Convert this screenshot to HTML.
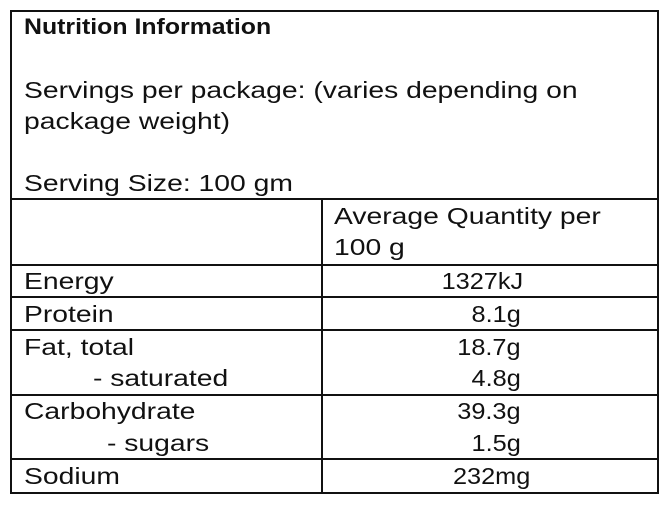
<!DOCTYPE html>
<html><head><style>
body{margin:0;width:671px;height:506px;background:#fff;position:relative;font-family:"Liberation Sans",sans-serif;color:#111;overflow:hidden}
.b{position:absolute;background:#111}
.t{position:absolute;font-size:23px;line-height:26px;white-space:nowrap;transform:scaleX(1.23);transform-origin:0 0}
.c{position:absolute;font-size:23px;line-height:26px;width:300px;text-align:right;white-space:nowrap}
.c span{display:inline-block;transform:scaleX(1.1);transform-origin:100% 0}
</style></head><body>
<div class="b" style="left:10px;top:10px;width:649px;height:2px"></div>
<div class="b" style="left:10px;top:492px;width:649px;height:2px"></div>
<div class="b" style="left:10px;top:10px;width:2px;height:484px"></div>
<div class="b" style="left:657px;top:10px;width:2px;height:484px"></div>
<div class="b" style="left:321px;top:199px;width:2px;height:294px"></div>
<div class="b" style="left:10px;top:198px;width:649px;height:2px"></div>
<div class="b" style="left:10px;top:264px;width:649px;height:2px"></div>
<div class="b" style="left:10px;top:296px;width:649px;height:2px"></div>
<div class="b" style="left:10px;top:329px;width:649px;height:2px"></div>
<div class="b" style="left:10px;top:394px;width:649px;height:2px"></div>
<div class="b" style="left:10px;top:458px;width:649px;height:2px"></div>
<div class="t" style="left:24px;top:14px;font-weight:bold;font-size:22px;transform:scaleX(1.13)">Nutrition Information</div>
<div class="t" style="left:24px;top:77px">Servings per package: (varies depending on</div>
<div class="t" style="left:24px;top:108px">package weight)</div>
<div class="t" style="left:24px;top:170px">Serving Size: 100 gm</div>
<div class="t" style="left:334px;top:203px">Average Quantity per</div>
<div class="t" style="left:334px;top:234px">100 g</div>
<div class="t" style="left:24px;top:268px">Energy</div><div class="c" style="top:268px;left:223px"><span>1327kJ</span></div>
<div class="t" style="left:24px;top:301px">Protein</div><div class="c" style="top:301px;left:221px"><span>8.1g</span></div>
<div class="t" style="left:24px;top:334px">Fat, total</div><div class="c" style="top:334px;left:221px"><span>18.7g</span></div>
<div class="t" style="left:93px;top:365px">- saturated</div><div class="c" style="top:365px;left:221px"><span>4.8g</span></div>
<div class="t" style="left:24px;top:398px">Carbohydrate</div><div class="c" style="top:398px;left:221px"><span>39.3g</span></div>
<div class="t" style="left:107px;top:430px">- sugars</div><div class="c" style="top:430px;left:221px"><span>1.5g</span></div>
<div class="t" style="left:24px;top:463px">Sodium</div><div class="c" style="top:463px;left:230px"><span>232mg</span></div>
</body></html>
